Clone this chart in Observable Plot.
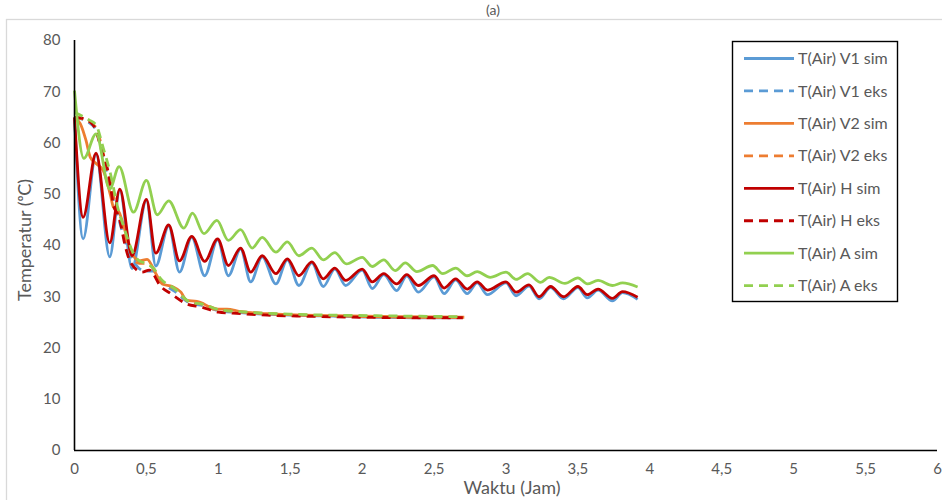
<!DOCTYPE html>
<html><head><meta charset="utf-8">
<script src="https://cdn.jsdelivr.net/npm/d3@7"></script>
<script src="https://cdn.jsdelivr.net/npm/@observablehq/plot@0.6"></script>
<style>body{margin:0;background:#fff;} svg{display:block;}</style>
</head><body><div id="chart"></div>
<script>
// ---- data ----
const seriesNames = ["T(Air) V1 sim","T(Air) V1 eks","T(Air) V2 sim","T(Air) V2 eks","T(Air) H sim","T(Air) H eks","T(Air) A sim","T(Air) A eks"];
const seriesColors = ["#5B9BD5","#5B9BD5","#ED7D31","#ED7D31","#C00000","#C00000","#92D050","#92D050"];
const seriesDashed = [false,true,false,true,false,true,false,true];
const xTicks = [0,0.5,1,1.5,2,2.5,3,3.5,4,4.5,5,5.5,6];
const yTicks = [0,10,20,30,40,50,60,70,80];

const v1SimT = [0,0.06,0.15,0.245,0.315,0.40,0.50,0.565,0.655,0.73,0.815,0.905,0.995,1.07,1.155,1.225,1.305,1.40,1.48,1.56,1.65,1.73,1.81,1.885,2.0,2.07,2.15,2.24,2.31,2.39,2.50,2.57,2.65,2.73,2.80,2.87,3.0,3.07,3.16,3.23,3.31,3.40,3.50,3.565,3.64,3.74,3.81,3.915];
const v1SimY = [65,41.3,57.8,37.8,50.8,35.5,48.8,36,43.8,34.8,41.6,34.1,41.1,34.1,39.3,32.9,37.8,32.5,37.2,32.2,36.6,32,35.4,32.2,35.2,31.6,34.3,31.2,34.1,30.9,33.9,30.6,33.3,30.6,32.7,30.4,32.7,30.2,32.1,29.6,31.8,29.6,31.8,29.8,31.3,29.2,30.8,29.5];

const v1EksT = [0,0.1,0.15,0.2,0.25,0.3,0.35,0.4,0.45,0.5,0.55,0.6,0.7,0.8,0.9,1.0,1.2,1.5,1.8,2.1,2.4,2.7];
const v1EksY = [65,64,62.5,57,51,46,41,37.5,35.5,35,35,33,31,28.8,28.2,27.3,26.8,26.4,26.2,26,25.9,25.9];

const v2SimT = [0,0.04,0.08,0.11,0.15,0.2,0.25,0.27,0.31,0.35,0.41,0.45,0.505,0.56,0.61,0.68,0.74,0.78,0.85,0.9,0.97,1.06,1.15,1.34,1.8,2.27,2.71];
const v2SimY = [65,63.8,60.5,57.2,56,54.6,49.8,47.5,46.5,43,38,37,37.3,34.8,32.5,32,30.9,29.3,29.1,28.6,27.6,27.6,27.1,26.7,26.3,26.1,26];

const v2EksT = [0,0.1,0.15,0.2,0.25,0.3,0.35,0.4,0.45,0.5,0.55,0.6,0.7,0.8,0.9,1.0,1.2,1.5,1.8,2.1,2.4,2.7];
const v2EksY = [65,64.2,63,58,52,46.5,42,38,36.5,36.5,35.5,33.2,31.5,29,28.5,27.5,27,26.5,26.3,26.1,26,26];

const hSimT = [0,0.06,0.15,0.245,0.315,0.40,0.50,0.565,0.655,0.73,0.815,0.905,0.995,1.07,1.155,1.225,1.305,1.40,1.48,1.56,1.65,1.73,1.81,1.885,2.0,2.07,2.15,2.24,2.31,2.39,2.50,2.57,2.65,2.73,2.80,2.87,3.0,3.07,3.16,3.23,3.31,3.40,3.50,3.565,3.64,3.74,3.81,3.915];
const hSimY = [65,45.5,58,40.5,51,38,49,38.5,44,37,41.8,36.9,41.3,36.1,39.5,34.8,38,34.5,37.4,34.1,36.8,33.5,35.6,33.2,35.4,32.9,34.5,32.5,34.3,32.2,34.1,31.7,33.5,31.5,32.9,31.3,32.9,30.9,32.3,30,32,30,32,30.4,31.5,29.7,31,29.9];

const hEksT = [0,0.06,0.13,0.19,0.24,0.27,0.31,0.355,0.39,0.47,0.52,0.6,0.67,0.78,0.88,1.0,1.1,1.34,1.6,2.0,2.4,2.7];
const hEksY = [65,64.8,63.5,58.5,53.5,48,45.5,39.6,36.7,34.8,35.2,32,30.6,28.6,28,27,26.8,26.4,26.2,26,25.9,25.9];

const aSimT = [0,0.065,0.15,0.245,0.31,0.41,0.50,0.575,0.655,0.76,0.82,0.90,0.99,1.07,1.155,1.235,1.305,1.40,1.48,1.56,1.65,1.73,1.81,1.89,2.0,2.07,2.15,2.23,2.30,2.38,2.49,2.56,2.65,2.73,2.80,2.89,3.0,3.07,3.15,3.24,3.30,3.41,3.50,3.565,3.64,3.74,3.81,3.915];
const aSimY = [70.2,57,61.8,51,55.4,46.5,52.7,46,48.7,43.4,46.3,42.3,44.9,41,43.1,39.5,41.6,38.7,40.7,38,39.5,37.2,38.6,36.4,37.7,35.9,37.2,35.1,36.6,34.9,36.1,34.5,35.6,34.1,34.9,33.8,34.8,33.4,34.5,32.8,33.8,32.6,33.7,32.5,33.2,32.2,32.7,31.9];

const aEksT = [0,0.1,0.15,0.2,0.25,0.3,0.35,0.4,0.45,0.5,0.55,0.6,0.7,0.8,0.9,1.0,1.2,1.5,1.8,2.1,2.4,2.7];
const aEksY = [66,64.5,63.5,59,54,47.5,43,39,37,36.5,35.5,33.5,31.5,29,28.5,27.5,27,26.6,26.4,26.3,26.2,26.1];

const seriesT = [v1SimT,v1EksT,v2SimT,v2EksT,hSimT,hEksT,aSimT,aEksT];
const seriesY = [v1SimY,v1EksY,v2SimY,v2EksY,hSimY,hEksY,aSimY,aEksY];

// ---- chart ----
const FONT = "Lato, 'Open Sans', sans-serif";
const fmt = d => String(d).replace(".", ",");

const lineMarks = seriesNames.map((name, i) => {
  const rows = seriesT[i].map((t, k) => ({t, v: seriesY[i][k]}));
  return Plot.line(rows, {
    x: "t", y: "v", curve: "monotone-x",
    stroke: seriesColors[i], strokeWidth: 2.8,
    strokeDasharray: seriesDashed[i] ? "9,6" : null,
    strokeLinecap: "butt"
  });
});

const chart = Plot.plot({
  width: 942, height: 500,
  marginLeft: 74, marginRight: 5, marginTop: 40, marginBottom: 50,
  style: {fontFamily: FONT, background: "#fff"},
  x: {domain: [0, 6]},
  y: {domain: [0, 80]},
  marks: [
    ...lineMarks,
    Plot.ruleX([0], {stroke: "#000", strokeWidth: 1.6}),
    Plot.ruleY([0], {stroke: "#000", strokeWidth: 1.6}),
    Plot.axisX(xTicks, {tickSize: 0, tickPadding: 13, tickFormat: fmt, fontSize: 15, fill: "#595959", label: null}),
    Plot.axisY(yTicks, {tickSize: 0, tickPadding: 14, fontSize: 15, fill: "#595959", label: null})
  ]
});
document.getElementById("chart").appendChild(chart);

const svg = d3.select(chart);
// chart-area border (partially off-page in the reference)
svg.insert("rect", ":first-child").attr("x", 6.5).attr("y", 19.5).attr("width", 1000).attr("height", 600)
  .attr("fill", "none").attr("stroke", "#D9D9D9").attr("stroke-width", 1.3);
// title
svg.append("text").attr("x", 493).attr("y", 15).attr("text-anchor", "middle")
  .attr("font-family", FONT).attr("font-size", 14).attr("fill", "#595959").text("(a)");
// axis titles
svg.append("text").attr("x", 512).attr("y", 494).attr("text-anchor", "middle")
  .attr("font-family", FONT).attr("font-size", 18).attr("fill", "#595959").text("Waktu (Jam)");
svg.append("text").attr("transform", "translate(31,240) rotate(-90)").attr("text-anchor", "middle")
  .attr("font-family", FONT).attr("font-size", 18).attr("fill", "#595959").text("Temperatur (ᵒC)");

// legend
const lg = svg.append("g");
lg.append("rect").attr("x", 732.5).attr("y", 41.5).attr("width", 165).attr("height", 260)
  .attr("fill", "#fff").attr("stroke", "#000").attr("stroke-width", 1.4);
seriesNames.forEach((name, i) => {
  const yy = 58.5 + i * 32.45;
  lg.append("line").attr("x1", 744).attr("x2", 794).attr("y1", yy).attr("y2", yy)
    .attr("stroke", seriesColors[i]).attr("stroke-width", 2.8)
    .attr("stroke-dasharray", seriesDashed[i] ? "9,6" : null);
  lg.append("text").attr("x", 798).attr("y", yy).attr("dy", "0.35em").attr("text-anchor", "start")
    .attr("font-family", FONT).attr("font-size", 16).attr("fill", "#595959").text(name);
});
</script>
</body></html>
